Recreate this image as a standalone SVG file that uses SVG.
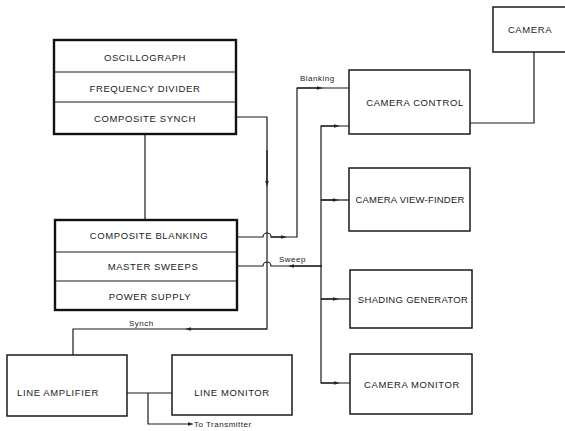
<svg xmlns="http://www.w3.org/2000/svg" width="565" height="431" viewBox="0 0 565 431">
<defs>
<marker id="ar" viewBox="0 0 10 6" refX="5" refY="3" markerWidth="6" markerHeight="3.5" orient="auto" markerUnits="userSpaceOnUse">
<path d="M0,0 L10,3 L0,6 z" fill="#222"/>
</marker>
</defs>
<style>
.bx{fill:#fff;stroke:#1a1a1a;stroke-width:1.5}
.bxh{fill:#fff;stroke:#111;stroke-width:2.4}
.dv{stroke:#1a1a1a;stroke-width:1.2;fill:none}
.ln{stroke:#1a1a1a;stroke-width:1.2;fill:none}
.t{font-family:"Liberation Sans",Arial,sans-serif;font-size:9.5px;fill:#1a1a1a;text-anchor:middle;letter-spacing:0.6px}
.s{font-family:"Liberation Sans",Arial,sans-serif;font-size:8px;fill:#1a1a1a;letter-spacing:0.5px}
</style>
<rect width="565" height="431" fill="#fff"/>
<g id="connectors">
<path class="ln" d="M145,134 V220"/>
<path class="ln" d="M236,117 H267 V329 H73 V355"/>
<path class="ln" d="M267,150 V184" marker-end="url(#ar)"/>
<path class="ln" d="M267,329 H188" marker-end="url(#ar)"/>
<path class="ln" d="M237,237 H263 A4,4 0 0 1 271,237 H297 V88 H349"/>
<path class="ln" d="M271,237 H284" marker-end="url(#ar)"/>
<path class="ln" d="M297,88 H320" marker-end="url(#ar)"/>
<path class="ln" d="M237,266 H263 A4,4 0 0 1 271,266 H322"/>
<path class="ln" d="M322,266 H291" marker-end="url(#ar)"/>
<path class="ln" d="M349,126 H321 V383 H350"/>
<path class="ln" d="M321,126 H337" marker-end="url(#ar)"/>
<path class="ln" d="M321,200 H349"/>
<path class="ln" d="M321,200 H336" marker-end="url(#ar)"/>
<path class="ln" d="M321,299 H350"/>
<path class="ln" d="M321,299 H336" marker-end="url(#ar)"/>
<path class="ln" d="M321,383 H337" marker-end="url(#ar)"/>
<path class="ln" d="M534,52 V123 H470"/>
<path class="ln" d="M127,393 H172"/>
<path class="ln" d="M148,393 V424 H191" marker-end="url(#ar)"/>
<text class="s" x="300" y="81">Blanking</text>
<text class="s" x="279" y="262">Sweep</text>
<text class="s" x="129" y="326">Synch</text>
<text class="s" x="194" y="427">To Transmitter</text>
</g>
<g id="top-unit">
<rect class="bxh" x="54" y="40" width="182" height="94"/>
<path class="dv" d="M54,72 H236 M54,102 H236"/>
<text class="t" x="145" y="61">OSCILLOGRAPH</text>
<text class="t" x="145" y="92">FREQUENCY DIVIDER</text>
<text class="t" x="145" y="122">COMPOSITE SYNCH</text>
</g>
<g id="bottom-unit">
<rect class="bxh" x="55" y="220" width="182" height="90"/>
<path class="dv" d="M55,252 H237 M55,281 H237"/>
<text class="t" x="149" y="239">COMPOSITE BLANKING</text>
<text class="t" x="153" y="270">MASTER SWEEPS</text>
<text class="t" x="150" y="300">POWER SUPPLY</text>
</g>
<g id="camera">
<rect class="bx" x="493" y="7" width="75" height="45"/>
<text class="t" x="530" y="33">CAMERA</text>
</g>
<g id="camera-control">
<rect class="bx" x="349" y="70" width="121" height="64"/>
<text class="t" x="415" y="106">CAMERA CONTROL</text>
</g>
<g id="camera-view-finder">
<rect class="bx" x="349" y="168" width="121" height="63"/>
<text class="t" x="410" y="203" style="letter-spacing:0.2px">CAMERA VIEW-FINDER</text>
</g>
<g id="shading-generator">
<rect class="bx" x="350" y="270" width="122" height="58"/>
<text class="t" x="413" y="303" style="letter-spacing:0.3px">SHADING GENERATOR</text>
</g>
<g id="camera-monitor">
<rect class="bx" x="350" y="354" width="122" height="60"/>
<text class="t" x="412" y="388">CAMERA MONITOR</text>
</g>
<g id="line-amplifier">
<rect class="bx" x="7" y="355" width="120" height="61"/>
<text class="t" x="58" y="396">LINE AMPLIFIER</text>
</g>
<g id="line-monitor">
<rect class="bx" x="172" y="355" width="120" height="60"/>
<text class="t" x="232" y="396">LINE MONITOR</text>
</g>
</svg>
